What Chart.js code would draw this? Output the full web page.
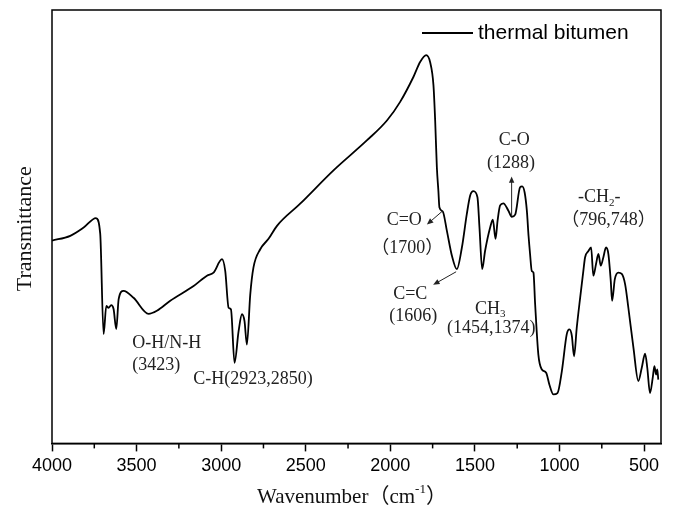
<!DOCTYPE html>
<html lang="en">
<head>
  <meta charset="UTF-8" />
  <title>FTIR thermal bitumen</title>
  <script src="https://cdn.jsdelivr.net/npm/chart.js"></script>
  <style>
    * { margin: 0; padding: 0; box-sizing: border-box; }
    body { background: #fff; }
    .wrap { width: 673px; height: 510px; position: relative; }
  </style>
</head>
<body>
  <div class="wrap"><canvas id="ftir"></canvas></div>

  <script>
    // Spectrum (wavenumber in cm-1, transmittance in arbitrary units)
    const wavenumber = [
      4000, 3892, 3813, 3740, 3715, 3695, 3679, 3666, 3650, 3636, 3620, 3606, 3577, 3518,
      3429, 3380, 3301, 3163, 3084, 3045, 2995, 2976, 2956, 2942, 2921, 2897, 2877, 2862,
      2848, 2828, 2809, 2769, 2720, 2670, 2533, 2336, 2139, 2020, 1942, 1863, 1824, 1788,
      1765, 1745, 1735, 1725, 1716, 1710, 1690, 1666, 1636, 1607, 1577, 1548, 1528, 1509,
      1485, 1473, 1457, 1440, 1410, 1394, 1378, 1366, 1351, 1332, 1302, 1282, 1262, 1233,
      1221, 1206, 1193, 1183, 1174, 1164, 1154, 1144, 1125, 1105, 1079, 1060, 1036, 1012,
      986, 957, 941, 927, 914, 898, 878, 859, 849, 829, 813, 800, 784, 770, 756, 741, 725,
      711, 697, 689, 673, 652, 632, 612, 593, 563, 534, 514, 494, 481, 465, 449, 439, 429,
      422, 416
    ];
    const transmittance = [
      46.8, 47.9, 49.8, 52.0, 48.4, 25.2, 31.7, 31.3, 31.9, 31.0, 26.4, 33.3, 35.2, 33.6,
      29.9, 30.6, 32.9, 36.3, 38.7, 39.4, 42.5, 39.8, 31.3, 30.9, 18.6, 25.9, 29.8, 28.2,
      22.8, 34.4, 40.6, 44.8, 47.2, 50.2, 55.3, 63.0, 69.9, 74.5, 78.8, 84.6, 88.0, 89.6,
      88.0, 82.6, 74.5, 63.7, 58.3, 54.5, 53.5, 49.1, 43.3, 40.2, 45.2, 52.9, 57.2, 58.2,
      56.8, 49.8, 40.2, 44.4, 49.8, 51.6, 47.2, 51.4, 54.9, 55.4, 53.7, 52.3, 52.8, 59.1,
      59.3, 57.9, 53.7, 47.9, 43.7, 39.8, 39.4, 32.1, 20.5, 17.1, 16.3, 13.6, 11.3, 11.6,
      16.7, 25.2, 26.3, 24.8, 20.1, 26.7, 33.6, 39.8, 42.9, 44.4, 45.2, 38.7, 41.4, 43.7,
      41.0, 42.9, 45.2, 43.7, 37.5, 32.9, 37.9, 39.4, 39.1, 36.7, 31.3, 22.1, 14.4, 17.4,
      20.7, 17.4, 11.6, 15.1, 17.8, 15.9, 17.1, 14.7
    ];
    const seriesName = 'thermal bitumen';
    const majorTicks = [4000, 3500, 3000, 2500, 2000, 1500, 1000, 500];
    const minorTicks = [3750, 3250, 2750, 2250, 1750, 1250, 750];

    // band labels, placed in data coordinates [wavenumber, transmittance]
    const bandLabels = [
      { at: [3526, 23.1], align: 'left',   parts: [['O-H/N-H']] },
      { at: [3526, 18.1], align: 'left',   parts: [['(3423)']] },
      { at: [3165, 14.8], align: 'left',   parts: [['C-H(2923,2850)']] },
      { at: [1918, 51.4], align: 'center', parts: [['C=O']] },
      { at: [1900, 45.1], align: 'center', parts: [['（1700）']] },
      { at: [1882, 34.5], align: 'center', parts: [['C=C']] },
      { at: [1864, 29.4], align: 'center', parts: [['(1606)']] },
      { at: [1500, 31.0], align: 'left',   parts: [['CH'], ['3', 'sub']] },
      { at: [1404, 26.6], align: 'center', parts: [['(1454,1374)']] },
      { at: [1268, 69.9], align: 'center', parts: [['C-O']] },
      { at: [1286, 64.6], align: 'center', parts: [['(1288)']] },
      { at: [890, 56.7],  align: 'left',   parts: [['-CH'], ['2', 'sub'], ['-']] },
      { at: [711, 51.4],  align: 'center', parts: [['（796,748）']] }
    ];
    const bandArrows = [
      { from: [1689, 53.7], to: [1784, 50.5] },
      { from: [1611, 39.6], to: [1747, 36.6] },
      { from: [1283, 52.5], to: [1283, 61.6] }
    ];

    const serif = "'Liberation Serif', 'Noto Sans CJK SC', serif";
    const sans = "'Liberation Sans', Arial, sans-serif";

    function drawParts(ctx, x, y, parts, align, size) {
      const fontFor = (kind) => (kind ? Math.round(size * 0.6) : size) + 'px ' + serif;
      let total = 0;
      parts.forEach(([t, kind]) => { ctx.font = fontFor(kind); total += ctx.measureText(t).width; });
      let cx = align === 'center' ? x - total / 2 : x;
      ctx.textAlign = 'left';
      ctx.textBaseline = 'middle';
      parts.forEach(([t, kind]) => {
        ctx.font = fontFor(kind);
        let dy = 0;
        if (kind === 'sub') dy = size * 0.3;
        if (kind === 'sup') dy = -size * 0.35;
        ctx.fillText(t, cx, y + dy);
        cx += ctx.measureText(t).width;
      });
    }

    function arrow(ctx, x1, y1, x2, y2) {
      const ang = Math.atan2(y2 - y1, x2 - x1);
      const head = 7;
      ctx.beginPath();
      ctx.moveTo(x1, y1);
      ctx.lineTo(x2 - Math.cos(ang) * head * 0.8, y2 - Math.sin(ang) * head * 0.8);
      ctx.stroke();
      ctx.beginPath();
      ctx.moveTo(x2, y2);
      ctx.lineTo(x2 - head * Math.cos(ang - 0.4), y2 - head * Math.sin(ang - 0.4));
      ctx.lineTo(x2 - head * Math.cos(ang + 0.4), y2 - head * Math.sin(ang + 0.4));
      ctx.closePath();
      ctx.fill();
    }

    const decorations = {
      id: 'decorations',
      afterDraw(chart) {
        const { ctx, chartArea: a, scales: { x, y } } = chart;
        ctx.save();
        ctx.strokeStyle = '#000';
        ctx.fillStyle = '#000';

        // frame
        ctx.lineWidth = 1.5;
        ctx.strokeRect(a.left, a.top, a.right - a.left, a.bottom - a.top);

        // minor ticks
        minorTicks.forEach(v => {
          const px = x.getPixelForValue(v);
          ctx.beginPath();
          ctx.moveTo(px, a.bottom);
          ctx.lineTo(px, a.bottom + 5);
          ctx.stroke();
        });

        // legend
        ctx.lineWidth = 1.8;
        ctx.beginPath();
        ctx.moveTo(a.right - 239, a.top + 23);
        ctx.lineTo(a.right - 188, a.top + 23);
        ctx.stroke();
        ctx.font = '21px ' + sans;
        ctx.textAlign = 'left';
        ctx.textBaseline = 'middle';
        ctx.fillText(seriesName, a.right - 183, a.top + 23);

        // band labels
        ctx.fillStyle = '#222';
        bandLabels.forEach(l => {
          drawParts(ctx, x.getPixelForValue(l.at[0]), y.getPixelForValue(l.at[1]), l.parts, l.align, 18);
        });
        ctx.lineWidth = 1;
        ctx.strokeStyle = '#222';
        bandArrows.forEach(r => {
          arrow(ctx, x.getPixelForValue(r.from[0]), y.getPixelForValue(r.from[1]),
                x.getPixelForValue(r.to[0]), y.getPixelForValue(r.to[1]));
        });

        // axis titles
        ctx.fillStyle = '#111';
        drawParts(ctx, 257, 497, [['Wavenumber'], ['（cm'], ['-1', 'sup'], ['）']], 'left', 21);
        ctx.translate(25, (a.top + a.bottom) / 2 + 2);
        ctx.rotate(-Math.PI / 2);
        ctx.font = '22px ' + serif;
        ctx.textAlign = 'center';
        ctx.textBaseline = 'middle';
        ctx.fillText('Transmittance', 0, 0);
        ctx.restore();
      }
    };

    const ctx = document.getElementById('ftir').getContext('2d');
    new Chart(ctx, {
      type: 'line',
      data: {
        datasets: [{
          label: seriesName,
          data: wavenumber.map((w, i) => ({ x: w, y: transmittance[i] })),
          borderColor: '#000',
          borderWidth: 1.8,
          pointRadius: 0,
          fill: false,
          cubicInterpolationMode: 'monotone'
        }]
      },
      options: {
        responsive: true,
        maintainAspectRatio: false,
        animation: false,
        layout: { padding: { left: 52, right: 12, top: 10, bottom: 29 } },
        plugins: { legend: { display: false }, tooltip: { enabled: false } },
        scales: {
          x: {
            type: 'linear',
            reverse: true,
            min: 400,
            max: 4000,
            afterBuildTicks: (scale) => { scale.ticks = majorTicks.map(v => ({ value: v })); },
            grid: { drawOnChartArea: false, tickLength: 8, tickColor: '#000', tickWidth: 1.5 },
            border: { color: '#000', width: 1.5 },
            ticks: {
              color: '#000', padding: 4, maxRotation: 0,
              font: { family: sans, size: 18 },
              callback: (v) => String(v)
            }
          },
          y: { display: false, min: 0, max: 100 }
        }
      },
      plugins: [decorations]
    });
  </script>
</body>
</html>
